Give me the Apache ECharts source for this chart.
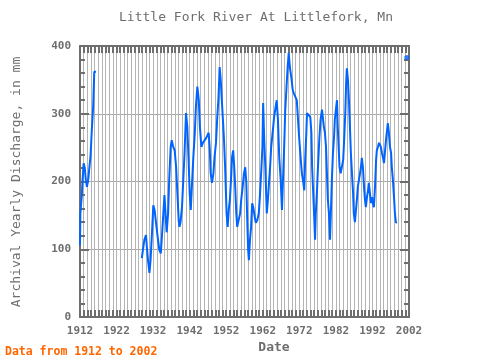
<!DOCTYPE html>
<html>
<head>
<meta charset="utf-8">
<script src="https://cdn.jsdelivr.net/npm/echarts@6/dist/echarts.min.js"></script>
<style>html,body{margin:0;padding:0;background:#fff}#c{width:480px;height:360px}</style>
</head>
<body>
<div id="c"></div>
<script>
// ---- data ----
const seg1Years = [1912.0,1912.1,1912.5,1912.7,1913.0,1913.3,1913.6,1913.9,1914.3,1914.5,1914.9,1915.2,1915.6,1915.9,1916.4];
const seg1Values = [106,153,180,202,227,220,202,192,205,217,239,273,310,362,362];

const seg2Years = [
1928.9,1929.3,1929.6,1930.05,1930.3,1930.6,1931.0,1931.3,1931.7,1932.05,
1932.4,1932.8,1933.25,1933.7,1934.1,1934.4,1934.8,1935.1,1935.3,1935.7,
1936.1,1936.4,1936.8,1937.1,1937.5,1937.9,1938.3,1938.6,1939.0,1939.2,
1939.5,1939.9,1940.25,1940.6,1941.0,1941.35,1941.7,1942.0,1942.3,1942.6,
1943.0,1943.4,1943.7,1944.1,1944.5,1944.8,1945.2,1945.6,1946.1,1946.5,
1947.2,1947.5,1947.75,1948.1,1948.5,1948.8,1949.2,1949.55,1949.9,1950.2,
1950.5,1950.8,1951.1,1951.4,1951.7,1951.9,1952.1,1952.4,1952.7,1953.0,
1953.3,1953.6,1953.9,1954.2,1954.5,1954.75,1955.0,1955.4,1955.8,1956.1,
1956.5,1956.85,1957.2,1957.5,1957.75,1958.0,1958.2,1958.5,1958.8,1959.1,
1959.4,1959.8,1960.1,1960.5,1960.9,1961.2,1961.6,1961.9,1962.1,1962.4,
1962.7,1962.95,1963.1,1963.4,1963.7,1964.0,1964.3,1964.7,1965.1,1965.4,
1965.8,1966.15,1966.5,1966.9,1967.25,1967.5,1967.8,1968.15,1968.5,1968.8,
1969.1,1969.4,1969.8,1970.2,1970.5,1970.9,1971.3,1971.6,1972.0,1972.4,
1972.7,1973.1,1973.35,1973.6,1973.9,1974.1,1974.55,1975.0,1975.3,1975.5,
1975.8,1976.1,1976.3,1976.5,1976.8,1977.1,1977.45,1977.8,1978.2,1978.5,
1978.7,1979.0,1979.3,1979.55,1979.8,1980.1,1980.4,1980.65,1980.9,1981.2,
1981.5,1981.7,1982.0,1982.3,1982.5,1982.75,1983.0,1983.3,1983.7,1984.0,
1984.3,1984.6,1984.8,1985.0,1985.3,1985.6,1985.85,1986.1,1986.4,1986.7,
1986.9,1987.2,1987.5,1987.8,1988.0,1988.3,1988.6,1988.85,1989.1,1989.4,
1989.7,1989.95,1990.2,1990.5,1990.8,1991.0,1991.3,1991.6,1991.9,1992.1,
1992.4,1992.7,1993.0,1993.2,1993.5,1993.8,1994.05,1994.3,1994.6,1994.9,
1995.15,1995.4,1995.7,1996.0,1996.2,1996.5,1996.8,1997.1,1997.3,1997.6,
1997.9,1998.15,1998.4,1998.7];
const seg2Values = [
87,89,114,121,103,84,65,84,125,165,
158,139,118,99,94,118,153,180,162,125,
153,202,251,261,251,246,221,187,143,133,
140,162,202,242,301,281,232,183,158,192,
236,271,310,340,320,281,251,257,258,264,
272,247,212,198,212,236,257,295,325,369,
350,320,291,261,221,187,153,133,158,173,
202,236,246,221,187,153,133,143,153,173,
192,212,221,198,143,99,84,114,133,168,
162,148,139,143,153,177,217,251,316,261,
221,177,153,173,198,221,251,272,295,306,
320,291,236,202,158,198,242,306,340,369,
390,369,354,335,330,328,320,295,261,232,
212,198,187,232,270,301,298,295,272,221,
183,143,114,153,183,221,261,291,306,291,
281,272,251,212,173,153,114,158,202,242,
266,291,306,320,281,251,221,212,210,232,
266,306,345,367,350,316,279,242,212,183,
153,140,158,177,192,202,212,221,235,221,
192,173,162,177,187,198,183,168,177,168,
162,192,232,246,251,257,258,251,242,235,
227,242,261,276,286,272,251,242,221,202,
177,153,140,139];

const seg3Years = [2001.4];
const seg3Values = [383];

const xLabelYears = [1912,1922,1932,1942,1952,1962,1972,1982,1992,2002];
const yTicks = [0,100,200,300,400];

// ---- build series data ----
const segments = [[seg1Years,seg1Values],[seg2Years,seg2Values],[seg3Years,seg3Values]];
const lineData = [];
const isolated = [];
segments.forEach(([ys,vs],k)=>{
  if(k>0){ lineData.push([ (ys[0]+lineData[lineData.length-1][0])/2, '-' ]); }
  const n = Math.min(ys.length, vs.length);
  for(let i=0;i<n;i++) lineData.push([ys[i], vs[i]]);
  if(n===1) isolated.push([ys[0], vs[0]]);
});

const GRAY = '#6e6e6e';
const MONO = '"DejaVu Sans Mono", monospace';
const chart = echarts.init(document.getElementById('c'), null, {renderer:'canvas'});

const xBase = {
  type:'value', min:1912, max:2002, interval:1,
  axisLine:{show:true, onZero:false, lineStyle:{color:GRAY, width:2}},
  axisTick:{show:true, inside:true, length:7, lineStyle:{color:GRAY, width:2}},
};
const yBase = {
  type:'value', min:yTicks[0], max:yTicks[yTicks.length-1], interval:100,
  axisLine:{show:true, onZero:false, lineStyle:{color:GRAY, width:2}},
  axisTick:{show:true, inside:true, length:9, lineStyle:{color:GRAY, width:2}},
  minorTick:{show:true, splitNumber:5, length:5, lineStyle:{color:GRAY, width:2}},
};

chart.setOption({
  animation:false,
  backgroundColor:'#ffffff',
  grid:{left:80, right:71, top:46, bottom:43, containLabel:false},
  xAxis:[
    Object.assign({}, xBase, {
      position:'bottom',
      splitLine:{show:true, lineStyle:{color:'#b4b4b4', width:1}},
      axisLabel:{show:true, margin:9, color:GRAY, fontFamily:MONO, fontWeight:'bold', fontSize:11,
        showMinLabel:true, showMaxLabel:true,
        formatter:v=>{ const r=Math.round(v); return xLabelYears.indexOf(r)>=0 ? String(r) : ''; }}
    }),
    Object.assign({}, xBase, {position:'top', splitLine:{show:false}, axisLabel:{show:false}})
  ],
  yAxis:[
    Object.assign({}, yBase, {
      position:'left',
      splitLine:{show:true, lineStyle:{color:'#a8a8a8', width:1}},
      axisLabel:{show:true, margin:9, color:GRAY, fontFamily:MONO, fontWeight:'bold', fontSize:11}
    }),
    Object.assign({}, yBase, {position:'right', splitLine:{show:false}, axisLabel:{show:false}})
  ],
  series:[
    {type:'line', xAxisIndex:0, yAxisIndex:0, data:lineData, showSymbol:false, connectNulls:false,
     lineStyle:{color:'#0064ff', width:2}, itemStyle:{color:'#0064ff'}, silent:true},
    {type:'scatter', xAxisIndex:0, yAxisIndex:0, data:isolated, symbol:'circle', symbolSize:5,
     itemStyle:{color:'#0064ff'}, silent:true}
  ],
  graphic:[
    {type:'text', left:'center', style:{text:'Little Fork River At Littlefork, Mn', x:256, y:18,
      textAlign:'center', textVerticalAlign:'middle', font:'13px '+MONO, fill:GRAY}, left:null, x:0, y:0},
    {type:'text', x:17, y:182, rotation:Math.PI/2,
      style:{text:'Archival Yearly Discharge, in mm', x:0, y:0, textAlign:'center', textVerticalAlign:'middle',
      font:'13px '+MONO, fill:GRAY}},
    {type:'text', x:274, y:348,
      style:{text:'Date', x:0, y:0, textAlign:'center', textVerticalAlign:'middle',
      font:'bold 13px '+MONO, fill:GRAY}},
    {type:'text', x:5, y:352,
      style:{text:'Data from 1912 to 2002', x:0, y:0, textAlign:'left', textVerticalAlign:'middle',
      font:'bold 11.5px '+MONO, fill:'#ff6600'}}
  ]
});
</script>
</body>
</html>
